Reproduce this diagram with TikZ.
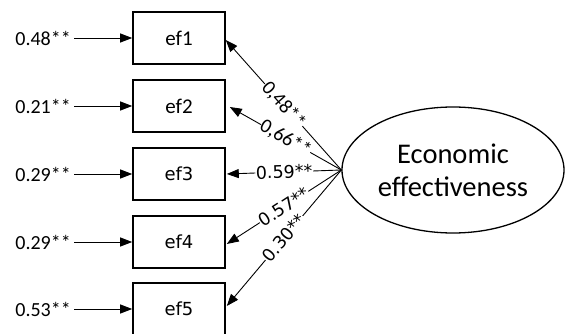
\documentclass[tikz,border=0pt]{standalone}
\usepackage{fontspec}
\setmainfont{Carlito}
\newfontfamily\dvs{DejaVu Sans}
\usetikzlibrary{arrows.meta,shapes.geometric}
\begin{document}
\begin{tikzpicture}[x=1pt,y=-1pt,
  obs/.style={draw,line width=1.6pt,minimum width=92pt,minimum height=52pt,inner sep=0pt,font=\fontsize{21}{24}\selectfont},
  obsd/.style={obs,font=\dvs\fontsize{18}{22}\selectfont},
  err/.style={anchor=east,inner sep=3pt,font=\fontsize{20}{24}\selectfont},
  lat/.style={draw,ellipse,line width=1.3pt,minimum width=222pt,minimum height=126pt,inner sep=0pt,align=center,font=\fontsize{28.5}{33}\selectfont},
  arr/.style={-{Triangle[length=12pt,width=9pt]},line width=0.9pt},
  lab/.style={sloped,pos=0.5,fill=white,inner sep=0.5pt,font=\fontsize{20}{24}\selectfont},
  labd/.style={lab,font=\dvs\fontsize{17.5}{22}\selectfont}]
\useasboundingbox (0,0) rectangle (566,334);
\node[obs] (ef1) at (179,38) {ef1};
\node[obs] (ef2) at (179,106) {ef2};
\node[obsd] (ef3) at (179,174) {ef3};
\node[obsd] (ef4) at (179,242) {ef4};
\node[obsd] (ef5) at (179,309) {ef5};
\node[err] (e1) at (74,38) {0.48**};
\node[err] (e2) at (74,106) {0.21**};
\node[err] (e3) at (74,174) {0.29**};
\node[err] (e4) at (74,242) {0.29**};
\node[err] (e5) at (74,309) {0.53**};
\foreach \i in {1,...,5} \draw[arr] (e\i.east) -- (ef\i.west);
\node[lat] (E) at (453,170) {Economic\\effectiveness};
\draw[arr] (E.west) -- ([yshift=-2pt]ef1.east) node[lab] {0,48**};
\draw[arr] (E.west) -- ([xshift=4pt,yshift=-1pt]ef2.east) node[lab] {0,66**};
\draw[arr] (E.west) -- ([xshift=1pt]ef3.east) node[labd] {0.59**};
\draw[arr] (E.west) -- ([xshift=1pt,yshift=-2pt]ef4.east) node[labd] {0.57**};
\draw[arr] (E.west) -- ([xshift=1pt,yshift=3pt]ef5.east) node[labd] {0.30**};
\end{tikzpicture}
\end{document}
